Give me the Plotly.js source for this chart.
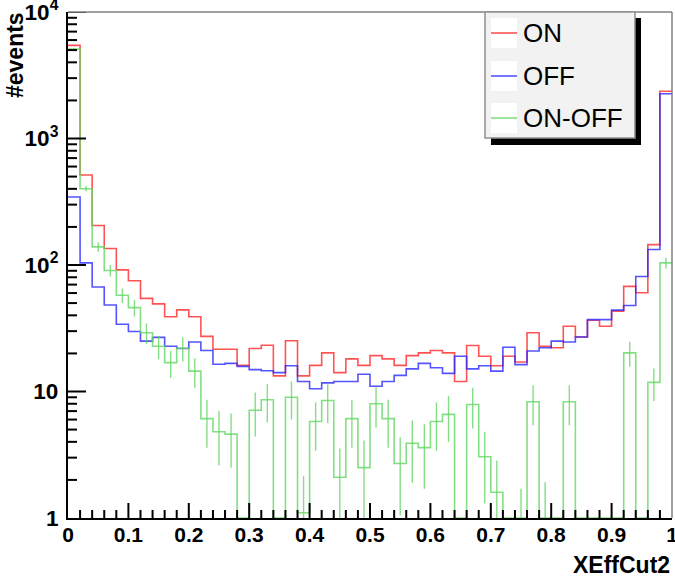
<!DOCTYPE html>
<html><head><meta charset="utf-8">
<script src="https://cdn.plot.ly/plotly-3.0.1.min.js"></script>
<style>html,body{margin:0;padding:0;background:#fff;}#chart{width:675px;height:579px;}</style>
</head><body><div id="chart"></div>
<script>
// ---- data ----
const seriesNames = ['ON', 'OFF', 'ON-OFF'];
const xMin = 0, xMax = 1, nBins = 50;
const onCounts = [5450, 514, 205, 135, 91.5, 75, 54.5, 49.3, 39, 44.2,
  39, 27.3, 21.6, 21.6, 16.1, 21.9, 23.2, 13.3, 25.2, 13.3,
  16.1, 20.2, 14.1, 18.1, 16.1, 19.2, 18.1, 16.1, 19.2, 20.2,
  21.1, 20.2, 12, 23.1, 19, 16, 19, 17.1, 29.1, 22.8,
  22.2, 32.8, 27, 36.6, 32.8, 43.2, 67.8, 60.3, 145, 2365];
const offCounts = [345, 104, 67, 48.3, 34, 29.8, 25, 26.8, 22.8, 21.9,
  24.6, 21.1, 16.4, 16.7, 15.8, 14.9, 14.6, 14.1, 16, 12,
  10.5, 11.7, 12, 12, 13.7, 11, 12, 13.4, 15.1, 16.7,
  15.4, 13.9, 19, 15.1, 16, 14.5, 22.4, 16.3, 20.9, 22.2,
  25, 24.6, 27, 37, 37, 44, 47.8, 81.2, 132.6, 2256];
const diffCounts = [5090, 401, 139, 90.5, 57.6, 46, 29.1, 22.8, 16.9, 22,
  14.5, 6.1, 4.8, 4.6, 0, 7.1, 8.6, 0, 9.0, 1.1,
  5.8, 8.5, 2.1, 6.1, 2.5, 8.0, 6.1, 2.7, 3.9, 3.6,
  5.8, 6.6, 0, 7.9, 3.05, 1.6, 0, 0.8, 8.3, 0.95,
  0, 8.3, 0, 0, 0, 0, 20.2, 0, 11.8, 104];
const diffErrors = [71, 20, 11.8, 9.5, 7.6, 6.8, 5.4, 4.8, 4.1, 4.7,
  3.8, 2.5, 2.2, 2.1, 0, 2.7, 2.9, 0, 3.0, 1.05,
  2.4, 2.9, 1.45, 2.5, 1.6, 2.8, 2.5, 1.65, 2.0, 1.9,
  2.4, 2.6, 0, 2.8, 1.75, 1.25, 0, 0.9, 2.9, 0.97,
  0, 2.9, 0, 0, 0, 0, 4.5, 0, 3.4, 10.2];
const xMajorStep = 0.1;
const yDecadeMin = 0, yDecadeMax = 4;   // 10^0 .. 10^4
const xTitle = 'XEffCut2';
const yTitle = '#events';

// ---- styles ----
const colors = ['rgba(255,40,40,0.8)', 'rgba(40,40,255,0.8)', 'rgba(100,215,100,0.8)'];
const FONT = 'Liberation Sans, Arial, Helvetica, sans-serif';
const W = 675, H = 579, M = {l: 68, r: 3, t: 12, b: 61};
const plotW = W - M.l - M.r, plotH = H - M.t - M.b;

const binW = (xMax - xMin) / nBins;
const edges = [];
for (let i = 0; i <= nBins; i++) edges.push(xMin + i * binW);
const centers = [];
for (let i = 0; i < nBins; i++) centers.push(xMin + (i + 0.5) * binW);
const yFloor = Math.pow(10, yDecadeMin);

function stepTrace(vals, color, name) {
  const ys = vals.map(v => Math.max(v, yFloor));
  ys.push(ys[ys.length - 1]);
  return {type: 'scatter', mode: 'lines', x: edges, y: ys, name: name,
    line: {shape: 'hv', color: color, width: 1.6}, hoverinfo: 'skip', showlegend: false};
}

const ex = [], ey = [];
for (let i = 0; i < nBins; i++) {
  const v = diffCounts[i], e = diffErrors[i];
  if (v + e > yFloor) {
    ex.push(centers[i], centers[i], null);
    ey.push(Math.max(v - e, yFloor), v + e, null);
  }
}

// ROOT-style inside tick marks as a decoration trace (positions derived from the axis definitions)
const tkx = [], tky = [];
const decades = yDecadeMax - yDecadeMin;
for (let i = 1; i < nBins; i++) {
  const isMajor = (i % Math.round(xMajorStep / binW)) === 0;
  const lenPx = isMajor ? 15 : 8;
  const x = edges[i];
  tkx.push(x, x, null);
  tky.push(yFloor, Math.pow(10, yDecadeMin + lenPx / plotH * decades), null);
}
for (let d = yDecadeMin; d <= yDecadeMax; d++) {
  for (let m = 1; m <= 9; m++) {
    if (d === yDecadeMin && m === 1) continue;
    if (d === yDecadeMax && m > 1) break;
    const lenPx = m === 1 ? 18 : 9;
    const y = m * Math.pow(10, d);
    tkx.push(xMin, xMin + lenPx / plotW * (xMax - xMin), null);
    tky.push(y, y, null);
  }
}

const traces = [
  stepTrace(onCounts, colors[0], seriesNames[0]),
  stepTrace(offCounts, colors[1], seriesNames[1]),
  stepTrace(diffCounts, colors[2], seriesNames[2]),
  {type: 'scatter', mode: 'lines', x: ex, y: ey, name: seriesNames[2] + ' errors',
   line: {color: colors[2], width: 1.4}, hoverinfo: 'skip', showlegend: false},
  {type: 'scatter', mode: 'lines', x: tkx, y: tky, name: 'ticks', cliponaxis: false,
   line: {color: '#000', width: 2}, hoverinfo: 'skip', showlegend: false}
];

const shapes = [];
// frame top / right
shapes.push({type: 'line', xref: 'paper', yref: 'paper', x0: 0, x1: 1, y0: 1, y1: 1, line: {color: '#808080', width: 1.5}});
shapes.push({type: 'line', xref: 'paper', yref: 'paper', x0: 1, x1: 1, y0: 0, y1: 1, line: {color: '#808080', width: 1.5}});

// legend (custom, ROOT style)
const legY = [0.9585, 0.8735, 0.7905];
shapes.push({type: 'rect', xref: 'paper', yref: 'paper', x0: 0.7003, x1: 0.9487, y0: 0.7372, y1: 0.9881,
  fillcolor: '#000', line: {width: 0}, layer: 'above'});
shapes.push({type: 'rect', xref: 'paper', yref: 'paper', x0: 0.6904, x1: 0.9387, y0: 0.751, y1: 1.0,
  fillcolor: '#f2f2f2', line: {color: '#909090', width: 1.5}, layer: 'above'});
const annotations = [];
seriesNames.forEach((n, i) => {
  shapes.push({type: 'rect', xref: 'paper', yref: 'paper', x0: 0.7003, x1: 0.7434,
    y0: legY[i] - 0.0296, y1: legY[i] + 0.0296, fillcolor: '#fff', line: {width: 0}, layer: 'above'});
  shapes.push({type: 'line', xref: 'paper', yref: 'paper', x0: 0.7003, x1: 0.7434,
    y0: legY[i], y1: legY[i], line: {color: colors[i], width: 1.6}, layer: 'above'});
  annotations.push({xref: 'paper', yref: 'paper', x: 0.7500, y: legY[i], xanchor: 'left', yanchor: 'middle',
    text: n, showarrow: false, font: {family: FONT, size: 26, color: '#000'}});
});
annotations.push({xref: 'paper', yref: 'paper', x: 0, y: 1, xanchor: 'right', yanchor: 'top',
  xshift: -38, yshift: 2, textangle: -90, text: yTitle, showarrow: false,
  font: {family: FONT, size: 23, color: '#000', weight: 'bold'}});
annotations.push({xref: 'paper', yref: 'paper', x: 1, y: 0, xanchor: 'right', yanchor: 'top',
  yshift: -32, text: xTitle, showarrow: false,
  font: {family: FONT, size: 23, color: '#000', weight: 'bold'}});

const layout = {
  width: W, height: H,
  margin: {l: M.l, r: M.r, t: M.t, b: M.b, pad: 0},
  paper_bgcolor: '#fff', plot_bgcolor: '#fff',
  showlegend: false,
  xaxis: {range: [xMin, xMax], tickmode: 'linear', tick0: xMin, dtick: xMajorStep, ticks: '',
    showline: true, linecolor: '#000', linewidth: 2, showgrid: false, zeroline: false,
    ticklabeloverflow: 'allow', ticklabelstandoff: -3,
    tickfont: {family: FONT, size: 21, color: '#000', weight: 'bold'}},
  yaxis: {type: 'log', range: [yDecadeMin, yDecadeMax], tickmode: 'linear', tick0: 0, dtick: 1,
    exponentformat: 'power', ticks: '',
    showline: true, linecolor: '#000', linewidth: 2, showgrid: false, zeroline: false,
    ticklabelstandoff: 4, ticklabeloverflow: 'allow',
    tickfont: {family: FONT, size: 18, color: '#000', weight: 'bold'}},
  shapes: shapes,
  annotations: annotations
};

Plotly.newPlot('chart', traces, layout, {staticPlot: true, displayModeBar: false});
</script>
</body></html>
